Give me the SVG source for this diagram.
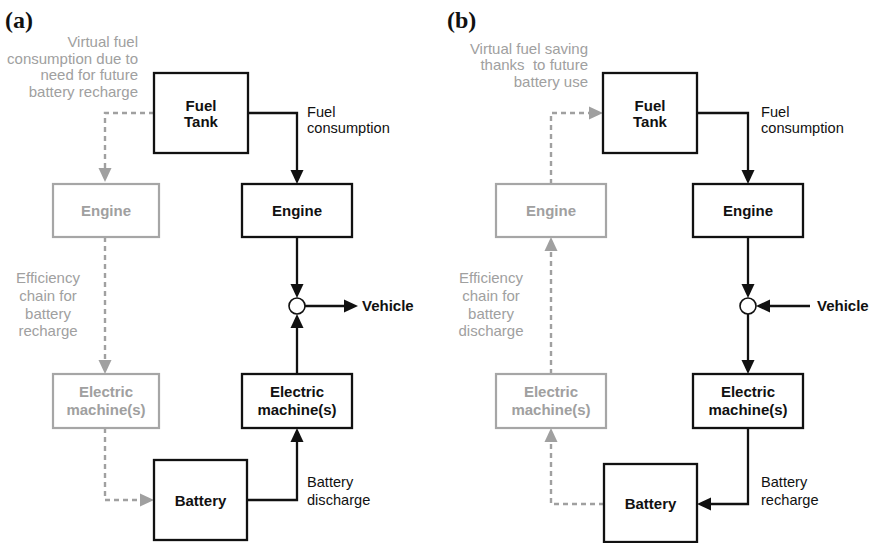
<svg xmlns="http://www.w3.org/2000/svg" width="870" height="543" viewBox="0 0 870 543">
<style>
.bk{fill:#fff;stroke:#111;stroke-width:2.3}
.gb{fill:#fff;stroke:#a6a6a6;stroke-width:2.2}
.bt{font-family:"Liberation Sans",Arial,sans-serif;font-weight:bold;font-size:15px;fill:#111;text-anchor:middle}
.gt{font-family:"Liberation Sans",Arial,sans-serif;font-weight:bold;font-size:15px;fill:#a0a0a0;text-anchor:middle}
.lbl{font-family:"Liberation Sans",Arial,sans-serif;font-size:14.6px;fill:#111}
.glbl{font-family:"Liberation Sans",Arial,sans-serif;font-size:15px;fill:#a0a0a0}
.ttl{font-family:"Liberation Serif","Times New Roman",serif;font-weight:bold;font-size:24px;fill:#111}
.ln{fill:none;stroke:#111;stroke-width:2.3;marker-end:url(#ab)}
.dl{fill:none;stroke:#a0a0a0;stroke-width:2.4;stroke-dasharray:5 4;marker-end:url(#ag)}
</style>
<defs>
<marker id="ab" markerUnits="userSpaceOnUse" markerWidth="16" markerHeight="14" refX="2" refY="6.5" orient="auto" viewBox="0 0 16 13">
<path d="M0,0 L14,6.5 L0,13 z" fill="#111"/>
</marker>
<marker id="ag" markerUnits="userSpaceOnUse" markerWidth="16" markerHeight="14" refX="2" refY="6.5" orient="auto" viewBox="0 0 16 13">
<path d="M0,0 L14,6.5 L0,13 z" fill="#a0a0a0"/>
</marker>
</defs>

<text class="ttl" x="5" y="28">(a)</text>
<text class="ttl" x="447" y="28">(b)</text>

<g id="connectors">
<path class="ln" d="M248,113 H297 V172"/>
<path class="ln" d="M297,237 V286"/>
<path class="ln" d="M297,374 V326"/>
<path class="ln" d="M305,306 H346"/>
<path class="ln" d="M247,500 H297 V440"/>
<path class="dl" d="M154,113 H105 V170"/>
<path class="dl" d="M105,237 V362"/>
<path class="dl" d="M105,428 V500 H142"/>
<path class="ln" d="M697,113 H748 V172"/>
<path class="ln" d="M748,237 V286"/>
<path class="ln" d="M810,306 H768"/>
<path class="ln" d="M748,314 V362"/>
<path class="ln" d="M748,428 V504 H709"/>
<path class="dl" d="M551,184 V113 H591"/>
<path class="dl" d="M551,374 V249"/>
<path class="dl" d="M604,504 H551 V440"/>
</g>

<g id="a-fueltank"><rect class="bk" x="154" y="73" width="94" height="80"/><text class="bt" x="201" y="111">Fuel</text><text class="bt" x="201" y="127">Tank</text></g>
<g id="a-engine"><rect class="bk" x="242" y="184" width="110" height="53"/><text class="bt" x="297" y="216">Engine</text></g>
<g id="a-engine-virtual"><rect class="gb" x="53" y="184" width="106" height="53"/><text class="gt" x="106" y="216">Engine</text></g>
<g id="a-junction"><circle cx="297" cy="306" r="8" fill="#fff" stroke="#111" stroke-width="1.6"/></g>
<g id="a-vehicle"><text class="bt" x="362" y="311" style="text-anchor:start">Vehicle</text></g>
<g id="a-em"><rect class="bk" x="242" y="374" width="110" height="54"/><text class="bt" x="297" y="397">Electric</text><text class="bt" x="297" y="415">machine(s)</text></g>
<g id="a-em-virtual"><rect class="gb" x="53" y="374" width="106" height="54"/><text class="gt" x="106" y="397">Electric</text><text class="gt" x="106" y="415">machine(s)</text></g>
<g id="a-battery"><rect class="bk" x="154" y="460" width="93" height="80"/><text class="bt" x="200.5" y="506">Battery</text></g>

<g id="a-labels">
<text class="glbl" text-anchor="end"><tspan x="138" y="47">Virtual fuel</tspan><tspan x="138" y="63.5">consumption due to</tspan><tspan x="138" y="80">need for future</tspan><tspan x="138" y="96.5">battery recharge</tspan></text>
<text class="lbl"><tspan x="307" y="117">Fuel</tspan><tspan x="307" y="133">consumption</tspan></text>
<text class="glbl" text-anchor="middle"><tspan x="48" y="283">Efficiency</tspan><tspan x="48" y="301">chain for</tspan><tspan x="48" y="318.5">battery</tspan><tspan x="48" y="336">recharge</tspan></text>
<text class="lbl"><tspan x="307" y="487">Battery</tspan><tspan x="307" y="505">discharge</tspan></text>
</g>

<g id="b-fueltank"><rect class="bk" x="603" y="73" width="94" height="80"/><text class="bt" x="650" y="111">Fuel</text><text class="bt" x="650" y="127">Tank</text></g>
<g id="b-engine"><rect class="bk" x="693" y="184" width="110" height="53"/><text class="bt" x="748" y="216">Engine</text></g>
<g id="b-engine-virtual"><rect class="gb" x="496" y="184" width="110" height="53"/><text class="gt" x="551" y="216">Engine</text></g>
<g id="b-junction"><circle cx="748" cy="306" r="8" fill="#fff" stroke="#111" stroke-width="1.6"/></g>
<g id="b-vehicle"><text class="bt" x="817" y="311" style="text-anchor:start">Vehicle</text></g>
<g id="b-em"><rect class="bk" x="693" y="374" width="110" height="54"/><text class="bt" x="748" y="397">Electric</text><text class="bt" x="748" y="415">machine(s)</text></g>
<g id="b-em-virtual"><rect class="gb" x="496" y="374" width="110" height="54"/><text class="gt" x="551" y="397">Electric</text><text class="gt" x="551" y="415">machine(s)</text></g>
<g id="b-battery"><rect class="bk" x="604" y="464" width="93" height="78"/><text class="bt" x="650.5" y="509">Battery</text></g>

<g id="b-labels">
<text class="glbl" text-anchor="end" xml:space="preserve"><tspan x="588" y="53.5">Virtual fuel saving</tspan><tspan x="588" y="70">thanks  to future</tspan><tspan x="588" y="87">battery use</tspan></text>
<text class="lbl"><tspan x="761" y="117">Fuel</tspan><tspan x="761" y="133">consumption</tspan></text>
<text class="glbl" text-anchor="middle"><tspan x="491" y="283">Efficiency</tspan><tspan x="491" y="301">chain for</tspan><tspan x="491" y="318.5">battery</tspan><tspan x="491" y="336">discharge</tspan></text>
<text class="lbl"><tspan x="761" y="487">Battery</tspan><tspan x="761" y="505">recharge</tspan></text>
</g>
</svg>
